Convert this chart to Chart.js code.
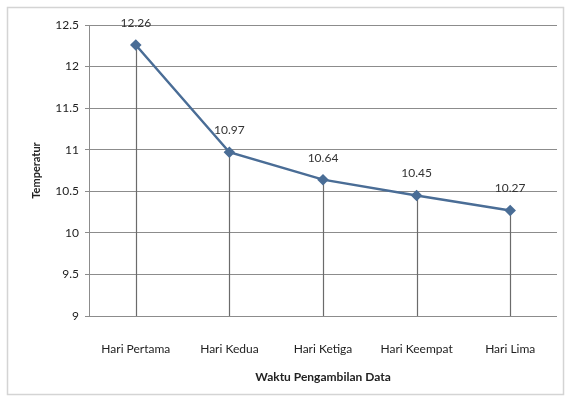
<!DOCTYPE html>
<html>
<head>
<meta charset="utf-8">
<script src="https://cdn.jsdelivr.net/npm/chart.js@4"></script>
<style>
  html, body { margin: 0; padding: 0; background: #fff; }
  #wrap { width: 568px; height: 400px; position: relative; }
</style>
</head>
<body>
<div id="wrap"><canvas id="c" width="568" height="400"></canvas></div>
<script>
const categories = ['Hari Pertama', 'Hari Kedua', 'Hari Ketiga', 'Hari Keempat', 'Hari Lima'];
const temperatures = [12.26, 10.97, 10.64, 10.45, 10.27];
const yMin = 9, yMax = 12.5, yStep = 0.5;

const FONT = 'Lato, "Open Sans", sans-serif';
const LINE_COLOR = '#4a6d96';

// Vertical drop lines, value labels and the outer frame
const decorations = {
  id: 'decorations',
  beforeDraw(chart) {
    const ctx = chart.ctx;
    ctx.save();
    ctx.fillStyle = '#ffffff';
    ctx.fillRect(0, 0, chart.width, chart.height);
    ctx.strokeStyle = '#d4d4d4';
    ctx.lineWidth = 1.5;
    ctx.strokeRect(7.5, 7.5, chart.width - 12, chart.height - 13);
    ctx.restore();
  },
  beforeDatasetsDraw(chart) {
    const ctx = chart.ctx;
    const meta = chart.getDatasetMeta(0);
    const base = chart.scales.y.getPixelForValue(yMin);
    ctx.save();
    ctx.strokeStyle = '#6b6b6b';
    ctx.lineWidth = 1.2;
    meta.data.forEach(pt => {
      ctx.beginPath();
      ctx.moveTo(Math.round(pt.x) + 0.5, pt.y);
      ctx.lineTo(Math.round(pt.x) + 0.5, base);
      ctx.stroke();
    });
    ctx.restore();
  },
  afterDatasetsDraw(chart) {
    const ctx = chart.ctx;
    const meta = chart.getDatasetMeta(0);
    const values = chart.data.datasets[0].data;
    ctx.save();
    ctx.font = '12px ' + FONT;
    ctx.fillStyle = '#333333';
    ctx.textAlign = 'center';
    ctx.textBaseline = 'middle';
    meta.data.forEach((pt, i) => {
      ctx.fillText(values[i].toFixed(2), pt.x, pt.y - 22);
    });
    ctx.restore();
  }
};

new Chart(document.getElementById('c'), {
  type: 'line',
  data: {
    labels: categories,
    datasets: [{
      data: temperatures,
      borderColor: LINE_COLOR,
      borderWidth: 2.5,
      pointStyle: 'rectRot',
      pointRadius: 4,
      pointBackgroundColor: LINE_COLOR,
      pointBorderColor: LINE_COLOR,
      tension: 0
    }]
  },
  options: {
    responsive: false,
    animation: false,
    devicePixelRatio: 1,
    layout: { padding: { left: 0, right: 11, top: 25, bottom: 0 } },
    plugins: { legend: { display: false }, tooltip: { enabled: false } },
    scales: {
      x: {
        offset: true,
        grid: { display: false },
        border: { display: false },
        ticks: { font: { family: FONT, size: 12 }, color: '#222', padding: 18 },
        title: {
          display: true,
          text: 'Waktu Pengambilan Data',
          font: { family: FONT, size: 12, weight: 'bold' },
          color: '#222',
          padding: { top: 0, bottom: 16 }
        },
        afterFit(scale) { scale.height = 84; }
      },
      y: {
        min: yMin,
        max: yMax,
        ticks: {
          stepSize: yStep,
          font: { family: FONT, size: 12 },
          color: '#222',
          padding: 6,
          callback: v => String(v)
        },
        grid: { color: '#8c8c8c', lineWidth: 1, tickLength: 4 },
        border: { display: true, color: '#8c8c8c', width: 1 },
        title: {
          display: true,
          text: 'Temperatur',
          font: { family: FONT, size: 11, weight: 'bold' },
          color: '#222',
          padding: { top: 30, bottom: 0 }
        },
        afterFit(scale) { scale.width = 89; }
      }
    }
  },
  plugins: [decorations]
});
</script>
</body>
</html>
